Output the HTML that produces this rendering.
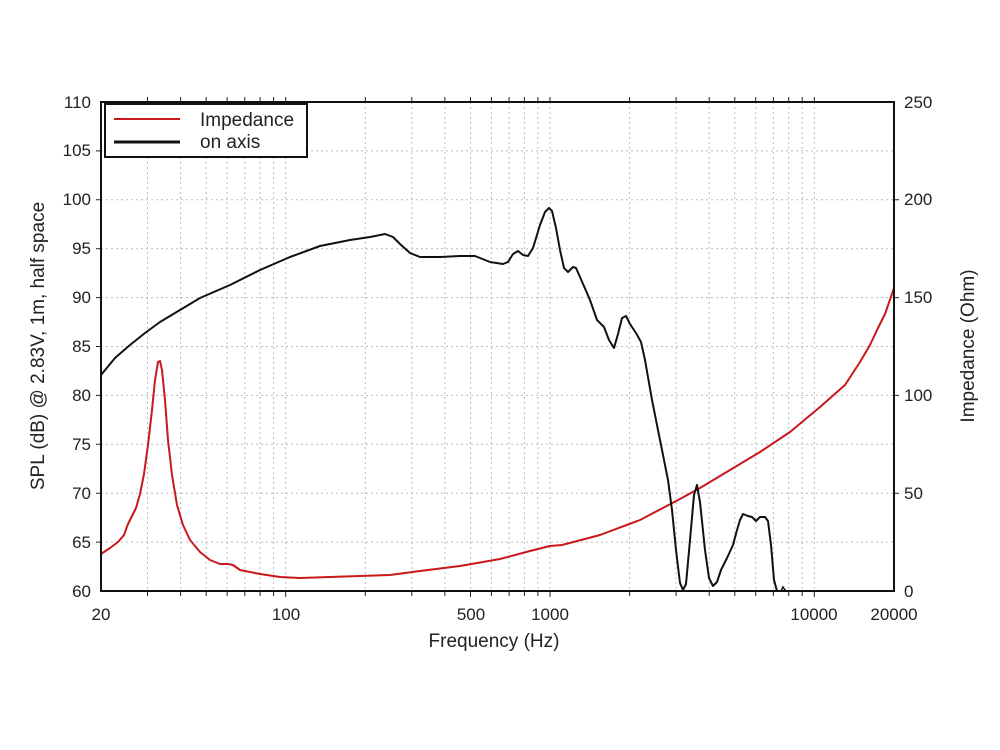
<!DOCTYPE html>
<html><head><meta charset="utf-8"><style>body{margin:0;background:#fff}svg{display:block}text{font-family:"Liberation Sans","DejaVu Sans",sans-serif;fill:#222}</style></head>
<body>
<svg width="1000" height="750" viewBox="0 0 1000 750">
<g stroke="#bbb" stroke-width="1" stroke-dasharray="2,3">
<path d="M147.5 102V591M180.6 102V591M206.2 102V591M227.1 102V591M244.8 102V591M260.1 102V591M273.6 102V591M285.7 102V591M365.3 102V591M411.8 102V591M444.9 102V591M470.5 102V591M491.4 102V591M509.1 102V591M524.4 102V591M537.9 102V591M550 102V591M629.6 102V591M676.1 102V591M709.2 102V591M734.8 102V591M755.7 102V591M773.4 102V591M788.7 102V591M802.2 102V591M814.3 102V591"/>
<path d="M101 542.1H894M101 493.2H894M101 444.3H894M101 395.4H894M101 346.5H894M101 297.6H894M101 248.7H894M101 199.8H894M101 150.9H894"/>
</g>
<g stroke="#222" stroke-width="1">
<path d="M147.5 591v5M180.6 591v5M206.2 591v5M227.1 591v5M244.8 591v5M260.1 591v5M273.6 591v5M285.7 591v6M365.3 591v5M411.8 591v5M444.9 591v5M470.5 591v6M491.4 591v5M509.1 591v5M524.4 591v5M537.9 591v5M550 591v6M629.6 591v5M676.1 591v5M709.2 591v5M734.8 591v5M755.7 591v5M773.4 591v5M788.7 591v5M802.2 591v5M814.3 591v6"/>
<path d="M147.5 102v-5M180.6 102v-5M206.2 102v-5M227.1 102v-5M244.8 102v-5M260.1 102v-5M273.6 102v-5M285.7 102v-5M365.3 102v-5M411.8 102v-5M444.9 102v-5M470.5 102v-5M491.4 102v-5M509.1 102v-5M524.4 102v-5M537.9 102v-5M550 102v-5M629.6 102v-5M676.1 102v-5M709.2 102v-5M734.8 102v-5M755.7 102v-5M773.4 102v-5M788.7 102v-5M802.2 102v-5M814.3 102v-5"/>
<path d="M96 542.1h5M96 493.2h5M96 444.3h5M96 395.4h5M96 346.5h5M96 297.6h5M96 248.7h5M96 199.8h5M96 150.9h5M894 493.2h5M894 395.4h5M894 297.6h5M894 199.8h5"/>
</g>
<polyline fill="none" stroke="#c8181c" stroke-width="2" stroke-linejoin="round" points="101,554 110,548 118,542 124,535 128,524 132,516 136,508 140,494 144,474 148,445 152,410 155,380 158,362 160,361 162,370 165,400 168,440 172,475 177,505 183,525 190,540 200,552 210,560 220,564 228,564 233,565 240,570 260,574 280,577 300,578 330,577 360,576 390,575 420,571 460,566 500,559 530,551 550,546 562,545 600,535 640,520 680,499 700,488 730,470 760,452 790,432 820,407 845,385 860,362 870,345 878,328 885,314 894,288"/>
<polyline fill="none" stroke="#111" stroke-width="2" stroke-linejoin="round" points="101,375 115,358 130,345 145,333 160,322 180,310 200,298 230,285 260,270 290,257 320,246 350,240 370,237 385,234 393,237 400,244 410,253 420,257 440,257 460,256 475,256 490,262 503,264 508,262 513,254 518,251 523,255 528,256 533,248 540,225 545,212 549,208 552,211 556,228 560,250 564,268 568,272 573,267 576,268 580,277 590,300 597,320 604,327 609,340 614,348 618,334 622,318 626,316 630,324 636,333 641,342 645,360 652,400 660,440 668,480 672,510 676,550 680,583 683,590 686,584 690,540 694,495 697,485 700,502 705,550 709,578 713,586 717,582 721,570 727,558 733,545 737,530 740,520 743,514 748,516 752,517 756,521 760,517 765,517 768,521 771,545 774,580 777,591"/>
<path d="M781 591l2-4 2 3 2 1" fill="none" stroke="#111" stroke-width="1.5"/>
<rect x="101" y="102" width="793" height="489" fill="none" stroke="#111" stroke-width="2"/>
<rect x="105" y="104" width="202" height="53" fill="#fff" stroke="#111" stroke-width="2"/>
<line x1="114" y1="119" x2="180" y2="119" stroke="#c8181c" stroke-width="2"/>
<line x1="114" y1="142" x2="180" y2="142" stroke="#111" stroke-width="3"/>
<text x="200" y="126" font-size="19">Impedance</text>
<text x="200" y="148" font-size="19">on axis</text>
<g font-size="17" text-anchor="end">
<text x="91" y="597">60</text><text x="91" y="548">65</text><text x="91" y="499">70</text><text x="91" y="450">75</text><text x="91" y="401">80</text><text x="91" y="352">85</text><text x="91" y="303">90</text><text x="91" y="254">95</text><text x="91" y="205">100</text><text x="91" y="156">105</text><text x="91" y="108">110</text>
</g>
<g font-size="17" text-anchor="start">
<text x="904" y="597">0</text><text x="904" y="499">50</text><text x="904" y="401">100</text><text x="904" y="303">150</text><text x="904" y="205">200</text><text x="904" y="108">250</text>
</g>
<g font-size="17" text-anchor="middle">
<text x="101" y="620">20</text><text x="286" y="620">100</text><text x="471" y="620">500</text><text x="550" y="620">1000</text><text x="814" y="620">10000</text><text x="894" y="620">20000</text>
</g>
<text x="494" y="647" font-size="19" text-anchor="middle">Frequency (Hz)</text>
<text transform="translate(44,346) rotate(-90)" font-size="19" text-anchor="middle">SPL (dB) @ 2.83V, 1m, half space</text>
<text transform="translate(974,346) rotate(-90)" font-size="19" text-anchor="middle">Impedance (Ohm)</text>
</svg>
</body></html>
